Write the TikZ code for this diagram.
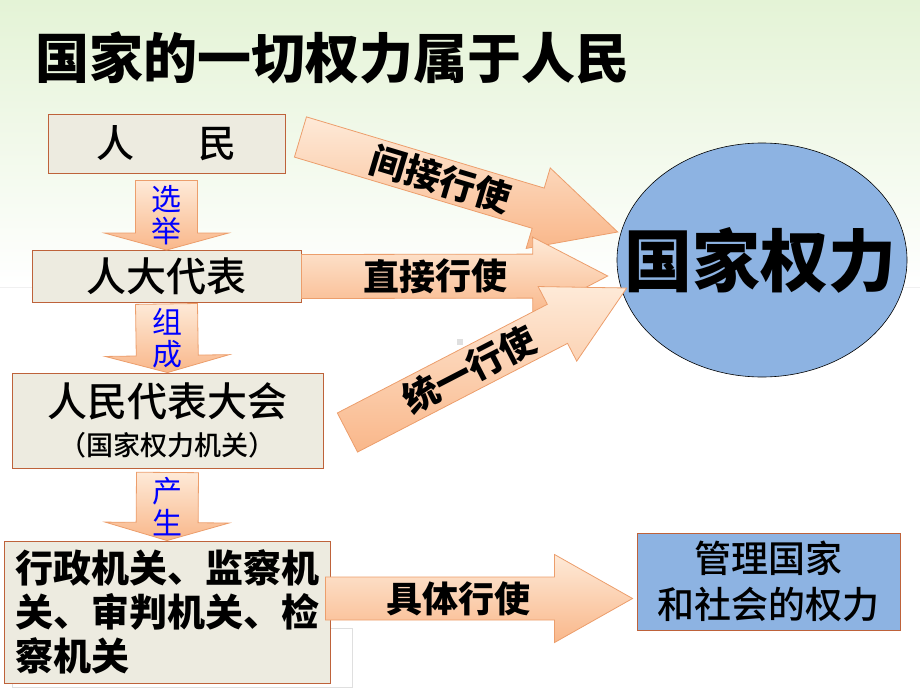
\documentclass[tikz,border=0pt]{standalone}
\usepackage{fontspec}
\setmainfont{Noto Sans CJK SC}
\newfontfamily\cjkmedium{Noto Sans CJK SC Medium}
\newfontfamily\cjkblack{Noto Sans CJK SC Black}
\usepackage{xcolor}
\usepackage{tikz}
\usetikzlibrary{calc, shapes.geometric}
\definecolor{boxfill}{RGB}{237, 235, 224}
\definecolor{boxline}{RGB}{190, 98, 58}
\definecolor{peachlight}{RGB}{254, 234, 216}
\definecolor{peachdark}{RGB}{249, 183, 138}
\definecolor{peachline}{RGB}{236, 158, 108}
\definecolor{powerblue}{RGB}{141, 179, 226}
\definecolor{bggreen}{RGB}{228, 243, 214}

% block arrow: #1 name, #2 tail, #3 tip, #4 half shaft, #5 half head, #6 head length
\newcommand{\blockarrow}[6]{%
  \coordinate (#1-base) at ($(#3)!#6!(#2)$);
  \draw[arrowbody] ($(#2)!#4!90:(#3)$) -- ($(#1-base)!#4!90:(#3)$)
    -- ($(#1-base)!#5!90:(#3)$) -- (#3) -- ($(#1-base)!#5!-90:(#3)$)
    -- ($(#1-base)!#4!-90:(#3)$) -- ($(#2)!#4!-90:(#3)$) -- cycle;
}

\begin{document}
\begin{tikzpicture}[x=1pt, y=-1pt,
    organ/.style={draw=boxline, fill=boxfill, line width=0.9pt, inner sep=0pt},
    bluebox/.style={draw=boxline, fill=powerblue, line width=0.9pt, inner sep=0pt},
    arrowbody/.style={draw=peachline, line width=0.8pt,
                      top color=peachlight, bottom color=peachdark},
    armlabel/.style={font=\fontsize{36}{36}\selectfont\bfseries, inner sep=0pt},
    votelabel/.style={text=blue, align=center, inner sep=0pt,
                      font=\fontsize{30}{32}\selectfont}]
  \useasboundingbox (0,0) rectangle (920,690);

  % background
  \shade[top color=bggreen, bottom color=white] (0,0) rectangle (920,287);
  \draw[gray!12] (0,287) -- (920,287);
  \fill[gray!25] (457,339) rectangle (463,345);

  % title
  \node[anchor=west, inner sep=0pt, font=\fontsize{54}{54}\cjkblack]
    (title) at (35,58) {国家的一切权力属于人民};

  % ---- left column ----
  \node[organ, minimum width=237pt, minimum height=59pt,
        font=\fontsize{38}{38}\cjkmedium] (people) at (166.5,143.5) {人\hspace{64pt}民};
  \node[organ, minimum width=269pt, minimum height=52pt,
        font=\fontsize{40}{40}\cjkmedium] (deputies) at (166.5,276.5) {人大代表};
  \node[organ, minimum width=311pt, minimum height=95pt, align=center,
        font=\fontsize{40}{42}\cjkmedium] (congress) at (167.5,420.5)
    {人民代表大会\\[-3pt]{\fontsize{27}{30}\selectfont （国家权力机关）}};
  \draw[gray!25] (12,628) rectangle (352,687);
  \node[organ, minimum width=326pt, minimum height=142pt, align=left, text width=304pt,
        font=\fontsize{38}{44}\selectfont\bfseries] (organs) at (167,612)
    {行政机关、监察机\\关、审判机关、检\\察机关};

  % ---- right side ----
  \node[ellipse, draw=black, fill=powerblue, line width=0.6pt, inner sep=0pt,
        minimum width=290pt, minimum height=234pt] (power) at (762,260) {};
  \node[font=\fontsize{68}{68}\cjkblack, inner sep=0pt]
    (power-text) at (760,260) {国家权力};
  \node[bluebox, minimum width=263pt, minimum height=97pt, align=center,
        font=\fontsize{37}{46}\cjkmedium] (manage) at (768.5,581.5)
    {管理国家\\和社会的权力};

  % ---- downward arrows ----
  \coordinate (elect-tail) at ($(people.south)+(0,7)$);
  \blockarrow{elect}{elect-tail}{deputies.north}{31pt}{62pt}{17pt}
  \node[votelabel] (elect-text) at ($(elect-tail)!0.5!(deputies.north)$) {选\\举};

  \coordinate (form-tail) at ($(deputies.south)+(0,1)$);
  \blockarrow{form}{form-tail}{congress.north}{31pt}{62pt}{17pt}
  \node[votelabel] (form-text) at ($(form-tail)!0.5!(congress.north)$) {组\\成};

  \coordinate (make-tail) at ($(congress.south)+(0,4)$);
  \blockarrow{make}{make-tail}{organs.north}{31pt}{62pt}{18pt}
  \node[votelabel] (make-text) at ($(make-tail)!0.5!(organs.north)$) {产\\生};

  % ---- exercising power ----
  \coordinate (indirect-tail) at ($(people.east)+(15,-6.5)$);
  \coordinate (indirect-tip) at ($(power.west)+(1,-28)$);
  \blockarrow{indirect}{indirect-tail}{indirect-tip}{21pt}{42pt}{83pt}
  \path (indirect-tail) -- (indirect-base)
    node[armlabel, pos=0.59, sloped] (indirect-text) {间接行使};

  \coordinate (direct-tail) at (deputies.east);
  \coordinate (direct-tip) at ($(power.west)+(-9,16)$);
  \blockarrow{direct}{direct-tail}{direct-tip}{22pt}{39pt}{75pt}
  \path (direct-tail) -- (direct-base)
    node[armlabel, pos=0.58, sloped] (direct-text) {直接行使};

  \coordinate (unified-tail) at ($(congress.east)+(24,12)$);
  \coordinate (unified-tip) at ($(power.west)+(10,28)$);
  \blockarrow{unified}{unified-tail}{unified-tip}{22pt}{42pt}{78pt}
  \path (unified-tail) -- (unified-base)
    node[armlabel, pos=0.58, sloped] (unified-text) {统一行使};

  \coordinate (concrete-tail) at ($(organs.east)+(-5,-13.5)$);
  \coordinate (concrete-tip) at ($(manage.west)+(-4,17)$);
  \blockarrow{concrete}{concrete-tail}{concrete-tip}{21.5pt}{44pt}{78pt}
  \path (concrete-tail) -- (concrete-base)
    node[armlabel, pos=0.58, sloped] (concrete-text) {具体行使};
\end{tikzpicture}
\end{document}
